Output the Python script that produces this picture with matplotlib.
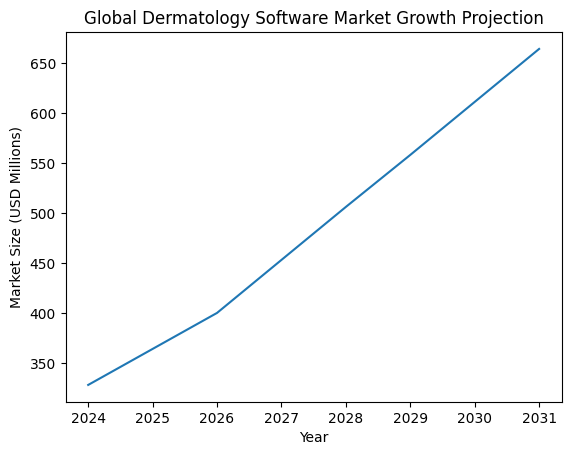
import matplotlib
matplotlib.use("Agg")
import matplotlib.pyplot as plt

years = [2024, 2025, 2026, 2027, 2028, 2029, 2030, 2031]
market_size = [328, 364, 400, 453, 506, 558, 611, 664]

fig, ax = plt.subplots()
ax.plot(years, market_size)
ax.set_title("Global Dermatology Software Market Growth Projection")
ax.set_xlabel("Year")
ax.set_ylabel("Market Size (USD Millions)")
fig.savefig("out.png", bbox_inches="tight")
